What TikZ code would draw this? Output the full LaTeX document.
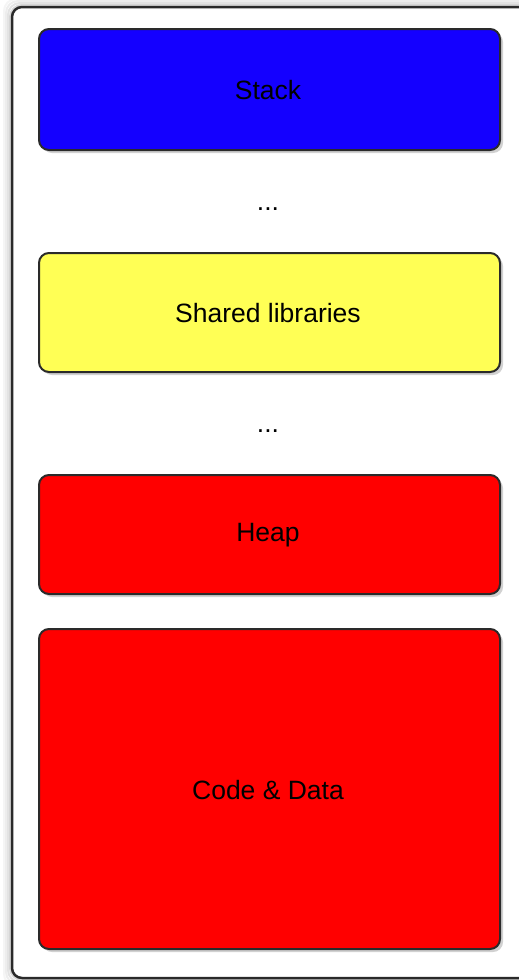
\documentclass[tikz,border=0pt]{standalone}
\usepackage{fontspec}
\setmainfont{Liberation Sans}
\definecolor{stackblue}{HTML}{1400FF}
\definecolor{libyellow}{HTML}{FFFF55}
\definecolor{heapred}{HTML}{FF0000}
\definecolor{edge}{HTML}{2A2A2A}
\begin{document}
\begin{tikzpicture}[x=1pt,y=-1pt,
  seg/.style={draw=edge,line width=2pt,rounded corners=10pt},
  segshadow/.style={fill=black!18,rounded corners=10pt},
  lbl/.style={font=\fontsize{26.5}{31}\selectfont,text=black}]
\useasboundingbox (0,0) rectangle (519,980);
% outer frame with soft shadow
\begin{scope}
\clip (0,0) rectangle (519,980);
\foreach \d/\c in {8/4,6/7,4/11,2/16}{
  \draw[black!\c,line width=2pt,rounded corners=12pt] (12-\d,7-\d) rectangle (540,978+\d);
}
\draw[draw=edge,line width=2.5pt,rounded corners=10pt,fill=white] (12,7) rectangle (540,978);
\end{scope}
% shadows
\fill[segshadow] (42,32) rectangle (503,153);
\fill[segshadow] (42,256) rectangle (503,375);
\fill[segshadow] (42,478) rectangle (503,597);
\fill[segshadow] (42,632) rectangle (503,952);
% segments
\draw[seg,fill=stackblue] (39,29) rectangle (500,150);
\draw[seg,fill=libyellow] (39,253) rectangle (500,372);
\draw[seg,fill=heapred] (39,475) rectangle (500,594);
\draw[seg,fill=heapred] (39,629) rectangle (500,949);
% labels
\node[lbl] (stack) at (268,90) {Stack};
\node[lbl] (dots1) at (268,209) {...};
\node[lbl] (libs) at (268,313) {Shared libraries};
\node[lbl] (dots2) at (268,431) {...};
\node[lbl] (heap) at (268,535) {Heap};
\node[lbl] (code) at (268,790) {Code \& Data};
\end{tikzpicture}
\end{document}
